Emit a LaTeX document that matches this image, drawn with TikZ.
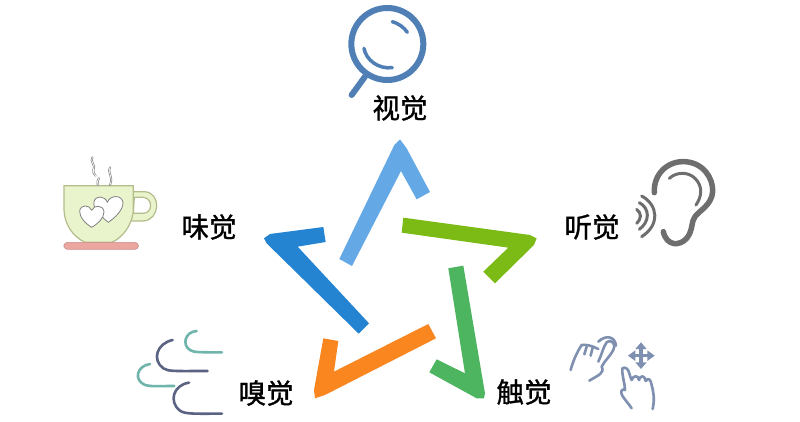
\documentclass[tikz,border=0pt]{standalone}
\usepackage{fontspec}
\setmainfont[RawFeature={embolden=1.2}]{Noto Sans CJK SC}
\definecolor{cLB}{HTML}{64A9E6}
\definecolor{cB}{HTML}{2484D2}
\definecolor{cLime}{HTML}{7CBB16}
\definecolor{cG}{HTML}{4DB45F}
\definecolor{cO}{HTML}{F9861F}
\definecolor{cMag}{HTML}{4F7FB5}
\definecolor{cEar}{HTML}{6E6E6E}
\definecolor{cTeal}{HTML}{6FB5AC}
\definecolor{cDk}{HTML}{5B6382}
\definecolor{cHand}{HTML}{7E8FB0}
\definecolor{cCup}{HTML}{EAF4CC}
\definecolor{cCupL}{HTML}{B4BC8C}
\definecolor{cPink}{HTML}{ECA6A0}
\tikzset{
  lbl/.style={font=\fontsize{27.5}{27.5}\selectfont, text=black, inner sep=0pt},
  zoomed/.style={x=0.3333pt,y=-0.3333pt},
  rnd/.style={line cap=round,line join=round},
}
\begin{document}
\begin{tikzpicture}[x=1pt,y=-1pt]
\useasboundingbox (0,0) rectangle (800,421);
\fill[white] (0,0) rectangle (800,421);
% star
\begin{scope}[shift={(260pt,-130pt)},zoomed]
\fill[cLB] (238,387)--(276,408)--(423,123)--(470,208)--(510,186)--(440,55)--(420,28)--(403,45)--cycle;
\fill[cB] (12,325)--(30,312)--(190,291)--(197,336)--(113,350)--(327,580)--(296,611)--(20,340)--cycle;
\fill[cLime] (430,263)--(810,315)--(830,325)--(822,345)--(705,460)--(670,425)--(745,353)--(425,308)--cycle;
\fill[cG] (565,415)--(610,407)--(675,790)--(672,805)--(650,805)--(508,727)--(530,688)--(615,730)--cycle;
\fill[cO] (505,582)--(528,625)--(195,795)--(165,805)--(162,780)--(190,625)--(235,633)--(222,725)--cycle;
\end{scope}
% magnifier
\begin{scope}[shift={(330pt,0pt)},zoomed]
\draw[cMag,line width=6pt] (172,132) circle[radius=108];
\draw[cMag,line width=6pt,rnd] (105,230)--(65,285);
\draw[cMag,line width=3.5pt,rnd] (187,65) .. controls (205,70) and (222,82) .. (232,97);
\draw[cMag,line width=3.5pt,rnd] (102,145) .. controls (108,180) and (145,208) .. (187,203);
\end{scope}
% cup
\begin{scope}[shift={(50pt,-145pt)},zoomed]
\draw[cCupL,line width=1.2pt,fill=cCup] (250,140)--(285,140) .. controls (335,145) and (330,225) .. (280,228)--(240,228)--cycle;
\fill[white,draw=cCupL,line width=1.2pt] (253,157)--(280,157) .. controls (310,160) and (308,205) .. (280,205)--(250,205)--cycle;
\draw[cCupL,line width=1.2pt,fill=cCup] (42,122)--(250,122)--(250,190) .. controls (250,240) and (215,280) .. (185,292)--(105,292) .. controls (70,275) and (42,240) .. (42,190)--cycle;
\fill[cPink,draw=cPink!85!black,line width=.6pt,rounded corners=3.5pt] (42,292) rectangle (265,313);
\draw[gray,line width=.8pt,fill=white,line join=round] (175,232) .. controls (150,212) and (128,190) .. (132,170) .. controls (137,150) and (165,152) .. (172,172) .. controls (180,150) and (215,148) .. (219,172) .. controls (220,195) and (195,218) .. (175,232)--cycle;
\draw[gray,line width=.8pt,fill=white,line join=round] (125,247) .. controls (105,235) and (88,215) .. (89,198) .. controls (92,178) and (118,178) .. (125,196) .. controls (132,178) and (160,180) .. (162,200) .. controls (162,220) and (145,235) .. (125,247)--cycle;
\foreach \a/\b in {2pt/gray,0.7pt/white}{
\draw[\b,line width=\a,rnd] (127,37) .. controls (118,50) and (140,62) .. (130,75) .. controls (126,82) and (135,88) .. (137,92);
\draw[\b,line width=\a,rnd] (180,67) .. controls (170,80) and (192,95) .. (180,120);
\draw[\b,line width=\a,rnd] (147,100) .. controls (142,105) and (142,112) .. (143,120);
}
\end{scope}
% ear
\begin{scope}[shift={(560pt,-150pt)},zoomed]
\draw[cEar,line width=5.5pt,rnd] (283,128) .. controls (280,70) and (325,32) .. (375,35) .. controls (430,38) and (460,85) .. (458,125) .. controls (455,165) and (420,180) .. (405,200) .. controls (393,215) and (400,240) .. (380,265) .. controls (360,288) and (320,290) .. (310,245);
\draw[cEar,line width=3pt,rnd] (328,85) .. controls (350,65) and (385,65) .. (405,85) .. controls (430,110) and (425,140) .. (408,165);
\draw[cEar,line width=3pt,rnd] (245,138) .. controls (295,165) and (300,225) .. (245,260);
\draw[cEar,line width=3pt,rnd] (238,158) .. controls (270,175) and (270,215) .. (238,238);
\draw[cEar,line width=3pt,rnd] (230,178) .. controls (245,190) and (245,205) .. (230,220);
\end{scope}
% smell
\begin{scope}[shift={(125pt,-320pt)},zoomed]
\draw[cTeal,line width=2.6pt,rnd] (215,33) .. controls (180,35) and (170,75) .. (195,90) .. controls (205,97) and (220,97) .. (291,97);
\draw[cDk,line width=2.6pt,rnd] (143,60) .. controls (95,70) and (80,120) .. (115,145) .. controls (130,155) and (150,153) .. (248,153);
\draw[cTeal,line width=2.6pt,rnd] (75,132) .. controls (35,138) and (25,180) .. (60,195) .. controls (75,200) and (100,198) .. (148,198);
\draw[cDk,line width=2.6pt,rnd] (192,188) .. controls (145,195) and (130,245) .. (165,272) .. controls (180,283) and (210,281) .. (291,281);
\end{scope}
% touch
\begin{scope}[shift={(490pt,-325pt)},zoomed]
\begin{scope}[line width=2.6pt,rnd]
\draw[cHand] (242,135) .. controls (250,105) and (262,80) .. (275,60) .. controls (290,58) and (305,62) .. (325,72);
\draw[cHand] (290,65)--(283,88);
\draw[cHand] (308,68)--(302,92);
\draw[cHand] (325,110) .. controls (335,90) and (340,65) .. (350,52) .. controls (365,40) and (380,60) .. (370,75) .. controls (360,95) and (345,105) .. (335,125) .. controls (345,145) and (325,150) .. (298,167);
\draw[cHand] (325,50) .. controls (345,30) and (375,32) .. (378,62);
\draw[cHand] (397,130) .. controls (405,125) and (415,130) .. (418,145) .. controls (420,155) and (423,160) .. (425,165) .. controls (430,150) and (445,150) .. (447,165) .. controls (450,150) and (465,150) .. (467,168) .. controls (475,155) and (483,165) .. (485,180) .. controls (490,200) and (495,220) .. (488,252);
\draw[cHand] (397,130) .. controls (395,150) and (405,175) .. (405,195) .. controls (395,190) and (390,200) .. (397,212) .. controls (405,225) and (415,235) .. (425,250);
\draw[cHand,line width=3.5pt] (430,92)--(478,92) (453,68)--(453,116);
\end{scope}
\fill[cHand] (453,52)--(470,72)--(436,72)--cycle (453,132)--(470,112)--(436,112)--cycle (414,92)--(436,76)--(436,108)--cycle (494,92)--(472,76)--(472,108)--cycle;
\end{scope}
\node[lbl] (see) at (400,108) {视觉};
\node[lbl] (taste) at (209,227) {味觉};
\node[lbl] (hear) at (592,227) {听觉};
\node[lbl] (smell) at (266,393) {嗅觉};
\node[lbl] (touch) at (524,392) {触觉};
\end{tikzpicture}
\end{document}
